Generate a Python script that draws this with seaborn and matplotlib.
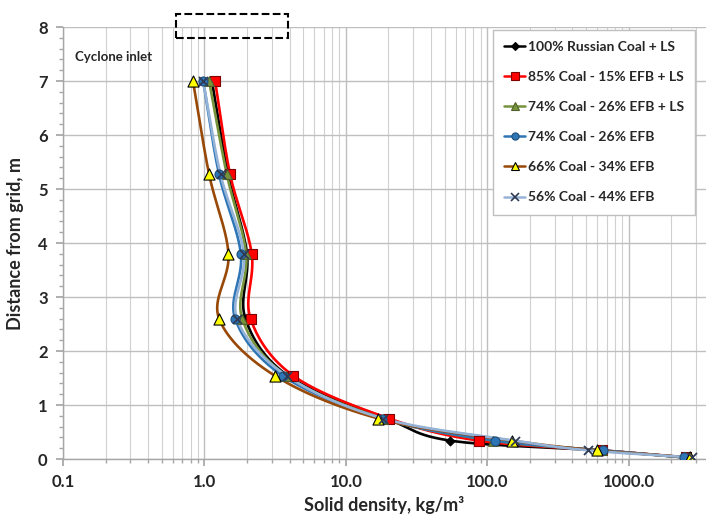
import numpy as np
import pandas as pd
import matplotlib
matplotlib.use("Agg")
import matplotlib.pyplot as plt
from matplotlib.lines import Line2D
from matplotlib.patches import Rectangle
import seaborn as sns

# Measurement heights above the distributor grid (m)
heights = [7.0, 5.27, 3.8, 2.6, 1.54, 0.75, 0.34, 0.16, 0.03]

# Solid density (kg/m3) at each height, per fuel blend
coal_ls = [1.13, 1.47, 2.0, 1.95, 3.9, 19.5, 55, 620, 2500]
coal85_efb15_ls = [1.19, 1.52, 2.16, 2.12, 4.26, 20.2, 87, 650, 2550]
coal74_efb26_ls = [1.08, 1.44, 1.97, 1.85, 3.8, 18.4, 110, 650, 2500]
coal74_efb26 = [0.98, 1.27, 1.81, 1.65, 3.58, 18.0, 113, 660, 2460]
coal66_efb34 = [0.83, 1.08, 1.48, 1.27, 3.16, 17.0, 150, 594, 2730]
coal56_efb44 = [0.98, 1.30, 1.90, 1.70, 3.82, 18.4, 157, 519, 2790]

labels = [
    "100% Russian Coal + LS",
    "85% Coal - 15% EFB + LS",
    "74% Coal - 26% EFB + LS",
    "74% Coal - 26% EFB",
    "66% Coal - 34% EFB",
    "56% Coal - 44% EFB",
]
series = [coal_ls, coal85_efb15_ls, coal74_efb26_ls, coal74_efb26, coal66_efb34, coal56_efb44]

# line colour, marker, marker face, marker edge, marker size (pt)
styles = [
    ("#000000", "D", "#000000", "#000000", 4.5),
    ("#FF0000", "s", "#FF0000", "#800000", 7.0),
    ("#77933C", "^", "#77933C", "#4F6228", 7.0),
    ("#2E75B6", "o", "#2E75B6", "#1F4E79", 6.5),
    ("#984807", "^", "#FFFF00", "#000000", 8.0),
    ("#95B3D7", "x", "#2F3B55", "#2F3B55", 6.5),
]

x_ticks = [0.1, 1, 10, 100, 1000]
x_tick_labels = ["0.1", "1.0", "10.0", "100.0", "1000.0"]
y_ticks = [0, 1, 2, 3, 4, 5, 6, 7, 8]

DEC_PX = 141.4   # pixels per decade on the x axis
UNIT_PX = 54.0   # pixels per metre on the y axis


def smooth_curve(xs, ys, n=40):
    """Bezier-smoothed curve through the points, built in log-x display space."""
    u = np.log10(np.asarray(xs, float)) * DEC_PX
    v = np.asarray(ys, float) * UNIT_PX
    P = np.column_stack([u, v])
    P = np.vstack([P[:1], P, P[-1:]])
    P[0] = 2 * P[1] - P[2]
    P[-1] = 2 * P[-2] - P[-3]
    out = []
    t = np.linspace(0, 1, n)
    for i in range(1, len(P) - 2):
        p0, p1, p2, p3 = P[i - 1], P[i], P[i + 1], P[i + 2]
        c1 = p1 + (p2 - p0) / 6.0
        c2 = p2 - (p3 - p1) / 6.0
        seg = ((1 - t) ** 3)[:, None] * p1 + (3 * (1 - t) ** 2 * t)[:, None] * c1 \
            + (3 * (1 - t) * t ** 2)[:, None] * c2 + (t ** 3)[:, None] * p2
        out.append(seg if i == 1 else seg[1:])
    C = np.vstack(out)
    return 10 ** (C[:, 0] / DEC_PX), C[:, 1] / UNIT_PX


sns.set_theme(style="whitegrid")
plt.rcParams["font.family"] = ["Lato", "DejaVu Sans"]

fig = plt.figure(figsize=(7.06, 5.14), dpi=100)
ax = fig.add_axes([63 / 706, 1 - 459 / 514, 1 - 63 / 706, (459 - 27) / 514])
ax.set_facecolor("white")

handles = []
for k, (vals, lab, (lc, mk, mf, me, ms)) in enumerate(zip(series, labels, styles)):
    cx, cy = smooth_curve(vals, heights)
    curve = pd.DataFrame({"density": cx, "height": cy})
    sns.lineplot(data=curve, x="density", y="height", sort=False, estimator=None,
                 color=lc, lw=1.9, ax=ax, zorder=3 + k)
    pts = pd.DataFrame({"density": vals, "height": heights})
    if mk == "x":
        sns.scatterplot(data=pts, x="density", y="height", marker="x", s=ms ** 2,
                        color=mf, linewidth=1.3, ax=ax, zorder=10 + k, legend=False)
    else:
        sns.scatterplot(data=pts, x="density", y="height", marker=mk, s=ms ** 2,
                        color=mf, edgecolor=me, linewidth=0.8, ax=ax, zorder=10 + k,
                        legend=False)
    handles.append(Line2D([0], [0], color=lc, lw=1.8, marker=mk,
                          markerfacecolor=mf, markeredgecolor=me,
                          markersize=ms * 0.8, markeredgewidth=0.8 if mk != "x" else 1.2))

ax.set_xscale("log")
ax.set_xlim(0.1, 10 ** (-1 + (706 - 63) / DEC_PX))
ax.set_ylim(0, 8)
ax.set_xticks(x_ticks)
ax.set_xticklabels(x_tick_labels)
ax.set_yticks(y_ticks)
ax.set_yticks(np.arange(0, 8.01, 0.2), minor=True)

ax.grid(which="major", axis="both", color="#BFBFBF", lw=1.0)
ax.grid(which="minor", axis="x", color="#D0D0D0", lw=0.8)
ax.grid(which="minor", axis="y", visible=False)

for side in ("top", "right"):
    ax.spines[side].set_visible(False)
for side in ("left", "bottom"):
    ax.spines[side].set_color("#A6A6A6")
    ax.spines[side].set_linewidth(1.0)

ax.tick_params(axis="both", which="major", labelsize=12, length=5, color="#A6A6A6",
               direction="out", bottom=True, left=True, pad=6)
ax.tick_params(axis="both", which="minor", length=3, color="#A6A6A6",
               direction="out", bottom=True, left=True)
for t in ax.get_xticklabels() + ax.get_yticklabels():
    t.set_fontweight("bold")

ax.set_xlabel("Solid density, kg/m\u00b3", fontsize=13, fontweight="bold", labelpad=4)
ax.set_ylabel("Distance from grid, m", fontsize=13, fontweight="bold", labelpad=10)

# Cyclone inlet marker above the riser top
ax.add_patch(Rectangle((0.63, 7.8), 3.9 - 0.63, 0.44, fill=False, ls="--", lw=1.5,
                       edgecolor="black", clip_on=False, zorder=20))
ax.text(0.122, 7.45, "Cyclone inlet", fontsize=9.5, fontweight="bold", va="center",
        ha="left", zorder=20)

leg = fig.legend(handles=handles, labels=labels, loc="upper left",
                 bbox_to_anchor=(493 / 706, 1 - 30 / 514), frameon=True, fancybox=False,
                 edgecolor="#BFBFBF", framealpha=1, prop={"weight": "bold", "size": 10.0},
                 labelspacing=1.3, handlelength=1.5, handletextpad=0.2, borderpad=0.8,
                 borderaxespad=0)
leg.get_frame().set_linewidth(1.0)

fig.savefig("out.png", dpi=100)
